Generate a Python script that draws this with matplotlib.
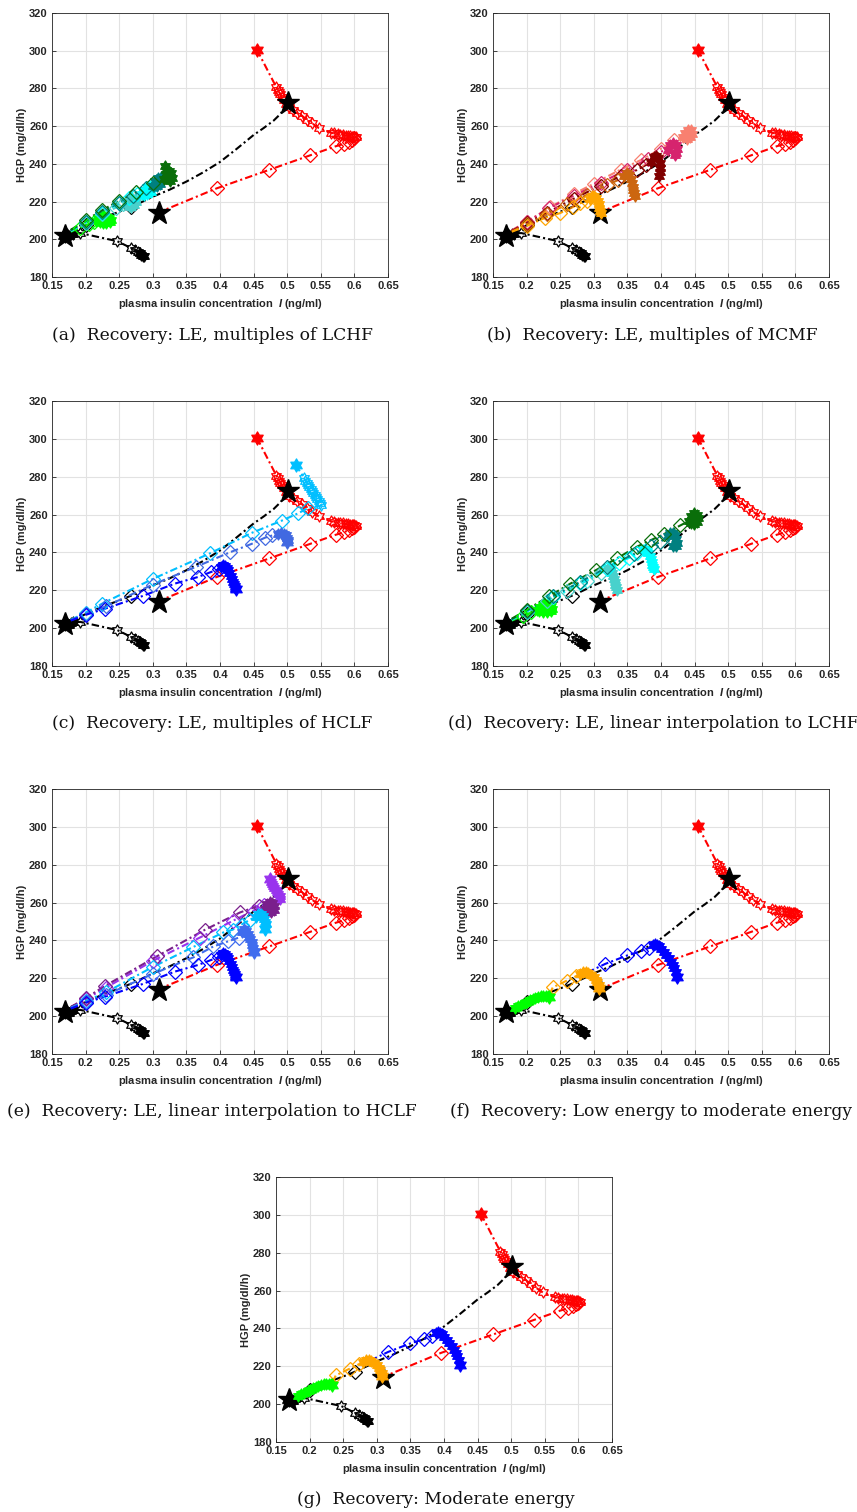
import numpy as np
import matplotlib
matplotlib.use('Agg')
import matplotlib.pyplot as plt
from matplotlib.path import Path

plt.rcParams['font.family'] = ['Liberation Sans', 'DejaVu Sans']
plt.rcParams['mathtext.fontset'] = 'custom'
plt.rcParams['mathtext.it'] = 'Liberation Sans:italic:bold'
plt.rcParams['mathtext.rm'] = 'Liberation Sans:bold'

# ---------------- axes / ticks ----------------
XTICKS = [0.15, 0.2, 0.25, 0.3, 0.35, 0.4, 0.45, 0.5, 0.55, 0.6, 0.65]
XTICKLABELS = ['0.15', '0.2', '0.25', '0.3', '0.35', '0.4', '0.45', '0.5', '0.55', '0.6', '0.65']
YTICKS = [180, 200, 220, 240, 260, 280, 300, 320]
XLABEL = 'plasma insulin concentration  $I$ (ng/ml)'
YLABEL = 'HGP (mg/dl/h)'
CAPTIONS = ['(a)  Recovery: LE, multiples of LCHF',
            '(b)  Recovery: LE, multiples of MCMF',
            '(c)  Recovery: LE, multiples of HCLF',
            '(d)  Recovery: LE, linear interpolation to LCHF',
            '(e)  Recovery: LE, linear interpolation to HCLF',
            '(f)  Recovery: Low energy to moderate energy',
            '(g)  Recovery: Moderate energy']

# ---------------- common trajectories ----------------
RED_HEX_X = [0.455, 0.484, 0.486, 0.488, 0.490, 0.492, 0.495, 0.498, 0.503, 0.508, 0.514, 0.522, 0.529,
             0.537, 0.547, 0.565, 0.570, 0.575, 0.579, 0.583, 0.587, 0.590, 0.593, 0.596, 0.598, 0.600, 0.602]
RED_HEX_Y = [300.5, 280.5, 279.3, 278.0, 276.8, 275.5, 273.8, 272.0, 270.0, 268.5, 267.0, 265.5, 263.5,
             261.5, 259.0, 256.5, 256.1, 255.8, 255.5, 255.3, 255.0, 254.8, 254.6, 254.5, 254.4, 254.3, 254.2]
RED_DIA_X = [0.602, 0.599, 0.596, 0.592, 0.584, 0.572, 0.534, 0.473, 0.395, 0.309]
RED_DIA_Y = [254.2, 253.6, 252.8, 251.8, 250.6, 249.3, 244.5, 236.8, 227.0, 214.3]
BLACK_UP_X = [0.501, 0.49, 0.48, 0.465, 0.45, 0.425, 0.40, 0.375, 0.35, 0.325, 0.30, 0.285, 0.268,
              0.25, 0.23, 0.215, 0.200, 0.188, 0.178]
BLACK_UP_Y = [272.3, 266.5, 263.0, 259.0, 255.3, 248.0, 241.0, 235.5, 230.6, 226.3, 222.6, 220.0, 217.2,
              214.6, 212.0, 209.8, 207.4, 205.5, 204.0]
BLACK_UP_MARK = [12, 16]
BLACK_LOW_X = [0.166, 0.169, 0.172, 0.175, 0.178, 0.181, 0.192, 0.247, 0.268, 0.274, 0.278, 0.281, 0.283, 0.285, 0.287]
BLACK_LOW_Y = [202.0, 201.4, 202.6, 201.8, 202.6, 203.0, 203.3, 199.0, 195.3, 194.3, 193.3, 192.6, 191.9, 191.3, 190.9]
BLACK_LOW_FILLED = [0, 1, 2, 3, 4, 5, 11, 12, 13, 14]
BLACK_LOW_OPEN = [6, 7, 8, 9, 10]
BIG_STAR_X = [0.170, 0.309, 0.501]
BIG_STAR_Y = [202.0, 214.0, 272.3]

# ---------------- panel (a) multiples of LCHF ----------------
A_COLORS = ['#00ff00', '#48d1cc', '#00ffff', '#008080', '#0a6e0a']
A1_DX = [0.178, 0.192, 0.205, 0.213]
A1_DY = [204.0, 206.2, 208.0, 209.2]
A1_HX = [0.216, 0.220, 0.224, 0.228, 0.232, 0.235, 0.238, 0.236, 0.231, 0.226, 0.221]
A1_HY = [209.6, 210.8, 211.8, 212.3, 212.0, 211.2, 210.0, 209.0, 208.6, 208.8, 209.2]
A2_DX = [0.178, 0.20, 0.225, 0.245, 0.256]
A2_DY = [204.3, 208.6, 213.2, 216.8, 218.6]
A2_HX = [0.262, 0.265, 0.269, 0.273, 0.275, 0.272, 0.267, 0.264]
A2_HY = [218.5, 220.5, 221.8, 221.5, 219.8, 218.0, 217.3, 217.8]
A3_DX = [0.178, 0.20, 0.225, 0.25, 0.265, 0.277]
A3_DY = [204.5, 209.0, 214.2, 219.0, 222.0, 224.0]
A3_HX = [0.284, 0.288, 0.292, 0.296, 0.299, 0.297, 0.292, 0.287]
A3_HY = [224.0, 226.0, 227.5, 228.2, 227.0, 225.0, 223.8, 223.5]
A4_DX = [0.178, 0.20, 0.225, 0.25, 0.27, 0.29]
A4_DY = [204.7, 209.4, 214.6, 219.4, 223.2, 227.2]
A4_HX = [0.300, 0.304, 0.308, 0.312, 0.314, 0.311, 0.306, 0.302]
A4_HY = [228.5, 230.8, 232.5, 233.0, 231.5, 229.5, 228.3, 228.0]
A5_DX = [0.178, 0.20, 0.225, 0.25, 0.275, 0.30]
A5_DY = [205.0, 210.0, 215.5, 220.5, 225.0, 230.0]
A5_HX = [0.316, 0.320, 0.324, 0.327, 0.328, 0.325, 0.320, 0.318]
A5_HY = [232.0, 234.5, 236.0, 235.0, 232.5, 231.0, 236.5, 238.8]

# ---------------- panel (b) multiples of MCMF ----------------
B_COLORS = ['#ffa500', '#cc6610', '#800000', '#d6246e', '#f88070']
B1_DX = [0.178, 0.20, 0.227, 0.25, 0.269, 0.280, 0.290]
B1_DY = [204.0, 207.0, 211.3, 213.9, 217.1, 219.2, 220.2]
B1_HX = [0.295, 0.298, 0.301, 0.304, 0.306, 0.307, 0.308, 0.309, 0.310]
B1_HY = [221.5, 223.0, 223.2, 222.0, 220.3, 218.5, 216.8, 215.2, 213.8]
B2_DX = [0.178, 0.20, 0.23, 0.26, 0.29, 0.32, 0.336]
B2_DY = [204.2, 208.0, 213.2, 218.6, 223.6, 228.8, 231.4]
B2_HX = [0.345, 0.349, 0.352, 0.355, 0.357, 0.358, 0.359, 0.36, 0.361]
B2_HY = [233.5, 235.0, 234.2, 232.0, 229.8, 227.8, 226.0, 224.5, 223.2]
B3_DX = [0.178, 0.20, 0.23, 0.27, 0.31, 0.34, 0.364, 0.378]
B3_DY = [204.4, 208.5, 214.0, 221.5, 228.5, 233.5, 236.7, 239.5]
B3_HX = [0.385, 0.389, 0.393, 0.396, 0.398, 0.399, 0.398, 0.397]
B3_HY = [241.0, 243.5, 244.2, 243.0, 240.5, 238.0, 235.5, 233.8]
B4_DX = [0.178, 0.20, 0.233, 0.27, 0.31, 0.35, 0.38, 0.40]
B4_DY = [204.6, 209.0, 216.5, 223.0, 230.0, 237.0, 242.5, 246.5]
B4_HX = [0.41, 0.414, 0.418, 0.422, 0.424, 0.423, 0.421]
B4_HY = [247.5, 250.0, 251.2, 250.0, 248.0, 246.0, 244.5]
B5_DX = [0.178, 0.20, 0.235, 0.27, 0.30, 0.34, 0.37, 0.40, 0.42]
B5_DY = [204.8, 209.3, 217.0, 224.0, 229.5, 237.0, 242.0, 248.0, 252.5]
B5_HX = [0.432, 0.436, 0.44, 0.444, 0.446, 0.443, 0.438]
B5_HY = [254.0, 256.5, 258.2, 258.0, 256.0, 254.0, 253.0]

# ---------------- panel (c) multiples of HCLF ----------------
C_COLORS = ['#0000ff', '#4169e1', '#00bfff']
C1_DX = [0.178, 0.20, 0.229, 0.285, 0.3325, 0.367, 0.387, 0.398]
C1_DY = [204.0, 207.0, 210.3, 217.0, 223.5, 227.0, 229.7, 231.0]
C1_HX = [0.402, 0.405, 0.408, 0.41, 0.412, 0.414, 0.416, 0.418, 0.42, 0.421, 0.422, 0.423]
C1_HY = [232.5, 233.2, 233.0, 232.0, 230.5, 229.0, 227.5, 226.0, 224.5, 223.3, 222.3, 221.4]
C1_STAR = (0.424, 220.5)
C2_DX = [0.178, 0.20, 0.23, 0.30, 0.365, 0.415, 0.447, 0.467, 0.478]
C2_DY = [204.2, 207.5, 211.5, 223.0, 232.5, 240.1, 244.5, 247.8, 249.0]
C2_HX = [0.487, 0.491, 0.495, 0.498, 0.5, 0.501]
C2_HY = [249.5, 250.5, 250.0, 249.0, 247.5, 246.5]
C2_STAR = (0.500, 245.5)
C3_DX = [0.178, 0.20, 0.225, 0.30, 0.385, 0.447, 0.492, 0.516, 0.531]
C3_DY = [204.4, 208.2, 213.0, 226.0, 239.5, 250.3, 256.8, 260.6, 263.5]
C3_HX = [0.551, 0.549, 0.547, 0.545, 0.543, 0.541, 0.539, 0.537, 0.535, 0.533, 0.531, 0.529, 0.527, 0.525]
C3_HY = [264.8, 265.9, 267.0, 268.1, 269.2, 270.3, 271.4, 272.5, 273.6, 274.7, 275.8, 276.9, 278.0, 279.5]
C3_STAR = (0.513, 286.0)

# ---------------- panel (d) linear interpolation to LCHF ----------------
D1_DX = [0.178, 0.195, 0.207]
D1_DY = [204.0, 206.5, 208.3]
D1_HX = [0.216, 0.220, 0.224, 0.228, 0.232, 0.236, 0.238, 0.236, 0.231, 0.225, 0.219]
D1_HY = [209.5, 211.0, 212.2, 212.8, 212.5, 211.5, 210.2, 209.0, 208.4, 208.5, 209.0]
D2_DX = [0.178, 0.20, 0.23, 0.26, 0.29, 0.31]
D2_DY = [204.3, 208.6, 214.2, 219.6, 225.0, 229.0]
D2_HX = [0.321, 0.323, 0.325, 0.327, 0.329, 0.33, 0.331, 0.332, 0.333, 0.334]
D2_HY = [232.0, 231.8, 230.5, 229.0, 227.5, 226.0, 224.5, 223.0, 221.5, 220.3]
D3_DX = [0.178, 0.20, 0.24, 0.28, 0.32, 0.337, 0.352, 0.365]
D3_DY = [204.5, 208.8, 216.3, 223.8, 231.0, 234.6, 237.0, 239.5]
D3_HX = [0.373, 0.376, 0.379, 0.381, 0.383, 0.385, 0.386, 0.387, 0.388, 0.389]
D3_HY = [241.5, 242.0, 241.0, 239.5, 238.0, 236.5, 235.0, 233.5, 232.3, 231.4]
D4_DX = [0.178, 0.20, 0.24, 0.28, 0.32, 0.36, 0.385, 0.399]
D4_DY = [204.7, 209.2, 217.0, 224.5, 232.2, 239.2, 243.3, 245.5]
D4_HX = [0.41, 0.414, 0.418, 0.421, 0.423, 0.424, 0.422, 0.418]
D4_HY = [248.5, 250.2, 250.5, 249.0, 247.0, 245.0, 243.5, 243.2]
D5_DX = [0.178, 0.20, 0.233, 0.265, 0.303, 0.335, 0.364, 0.385, 0.404, 0.429]
D5_DY = [205.0, 209.6, 216.8, 223.5, 230.6, 237.0, 243.0, 246.5, 249.6, 254.3]
D5_HX = [0.441, 0.445, 0.449, 0.453, 0.455, 0.453, 0.449, 0.444]
D5_HY = [256.5, 259.5, 260.8, 260.0, 258.0, 256.0, 255.0, 255.5]

# ---------------- panel (e) linear interpolation to HCLF ----------------
E_COLORS = ['#0000ff', '#3f6cee', '#00bfff', '#7a1f8c', '#9933ee']
E2_DX = [0.178, 0.20, 0.23, 0.30, 0.36, 0.39, 0.412, 0.428]
E2_DY = [204.2, 207.5, 211.2, 222.3, 231.0, 236.8, 239.5, 241.5]
E2_HX = [0.433, 0.436, 0.439, 0.441, 0.443, 0.445, 0.447, 0.448, 0.449, 0.45]
E2_HY = [244.5, 245.8, 245.0, 243.5, 242.0, 240.5, 239.0, 237.5, 236.0, 234.5]
E2_STAR = (0.450, 233.7)
E3_DX = [0.178, 0.20, 0.23, 0.30, 0.36, 0.405, 0.419, 0.432, 0.445]
E3_DY = [204.4, 208.0, 212.5, 226.0, 236.5, 244.2, 245.7, 248.4, 251.0]
E3_HX = [0.453, 0.457, 0.461, 0.464, 0.466, 0.467, 0.468]
E3_HY = [252.5, 254.0, 254.2, 253.0, 251.5, 250.0, 248.5]
E3_STAR = (0.467, 246.2)
E4_DX = [0.178, 0.20, 0.229, 0.306, 0.378, 0.43, 0.458]
E4_DY = [204.8, 209.5, 216.0, 231.6, 245.7, 254.8, 258.4]
E4_HX = [0.467, 0.47, 0.474, 0.478, 0.481, 0.48, 0.476, 0.471]
E4_HY = [256.5, 259.0, 260.3, 259.8, 258.0, 256.0, 255.0, 255.3]
E5_DX = [0.178, 0.20, 0.23, 0.30, 0.37, 0.42, 0.45, 0.465]
E5_DY = [204.6, 209.0, 215.0, 229.2, 241.5, 250.5, 255.8, 258.8]
E5_HX = [0.49, 0.489, 0.487, 0.485, 0.483, 0.481, 0.479, 0.477, 0.476]
E5_HY = [262.0, 263.3, 264.5, 265.6, 266.7, 267.8, 268.8, 269.8, 270.8]
E5_STAR = (0.474, 272.6)

# ---------------- panels (f),(g) low/moderate energy ----------------
F_COLORS = ['#00ff00', '#ffa500', '#0000ff']
F1_HX = [0.182, 0.187, 0.192, 0.197, 0.201, 0.205, 0.209, 0.213, 0.217, 0.221, 0.225, 0.229, 0.232]
F1_HY = [204.3, 205.3, 206.1, 206.9, 207.6, 208.3, 209.0, 209.6, 210.1, 210.5, 210.8, 210.7, 210.5]
F1_STAR = (0.234, 210.0)
F2_DX = [0.234, 0.239, 0.260, 0.274]
F2_DY = [211.5, 215.2, 218.8, 221.2]
F2_HX = [0.280, 0.284, 0.288, 0.292, 0.296, 0.300, 0.303, 0.305, 0.307]
F2_HY = [222.3, 223.3, 223.5, 223.0, 222.0, 220.8, 219.3, 217.8, 216.3]
F2_STAR = (0.308, 214.8)
F3_DX = [0.29, 0.317, 0.35, 0.37, 0.382]
F3_DY = [223.0, 227.6, 232.1, 234.3, 236.0]
F3_HX = [0.388, 0.391, 0.394, 0.397, 0.400, 0.404, 0.408, 0.412, 0.415, 0.418, 0.420, 0.422]
F3_HY = [237.5, 238.2, 237.8, 236.8, 235.3, 233.8, 232.2, 230.5, 228.8, 227.0, 225.3, 223.5]
F3_STAR = (0.424, 220.5)


# ---------------- drawing helpers ----------------
def hexagram_path():
    k = np.arange(12)
    ang = np.deg2rad(90 + 30 * k)
    r = np.where(k % 2 == 0, 1.0, 0.577)
    v = np.column_stack([r * np.cos(ang), r * np.sin(ang)])
    v = np.vstack([v, v[:1]])
    codes = [Path.MOVETO] + [Path.LINETO] * 11 + [Path.CLOSEPOLY]
    return Path(v, codes)


HEX = hexagram_path()
DASH = (0, (3.6, 1.5, 1.0, 1.5))
LW = 1.5
DMS = 7.0
HMS = 8.0


def draw_line(ax, x, y, c, z=2):
    ax.plot(x, y, color=c, lw=LW, ls=DASH, zorder=z)


def draw_dia(ax, x, y, c, z=3):
    ax.plot(x, y, ls='none', marker='D', ms=DMS, mfc='none', mec=c, mew=0.9, zorder=z)


def draw_hex(ax, x, y, c, filled=True, ms=HMS, z=3):
    ax.plot(x, y, ls='none', marker=HEX, ms=ms, mfc=(c if filled else 'none'), mec=c, mew=0.9, zorder=z)


def traj(ax, c, dx, dy, hx, hy, star=None, hfill=True):
    lx = list(dx) + list(hx)
    ly = list(dy) + list(hy)
    if star is not None:
        lx.append(star[0])
        ly.append(star[1])
    draw_line(ax, lx, ly, c, z=4)
    if len(dx) > 1:
        draw_dia(ax, dx[1:], dy[1:], c, z=5)
    draw_hex(ax, hx, hy, c, filled=hfill, z=5)
    if star is not None:
        draw_hex(ax, [star[0]], [star[1]], c, filled=True, ms=9.5, z=6)


def common(ax):
    # red
    draw_line(ax, RED_HEX_X, RED_HEX_Y, 'red')
    draw_line(ax, RED_DIA_X, RED_DIA_Y, 'red')
    draw_hex(ax, RED_HEX_X[1:], RED_HEX_Y[1:], 'red', filled=False)
    draw_hex(ax, RED_HEX_X[:1], RED_HEX_Y[:1], 'red', filled=True, ms=9.5)
    draw_dia(ax, RED_DIA_X[1:-1], RED_DIA_Y[1:-1], 'red')
    # black upper
    draw_line(ax, BLACK_UP_X, BLACK_UP_Y, 'black')
    draw_dia(ax, [BLACK_UP_X[i] for i in BLACK_UP_MARK], [BLACK_UP_Y[i] for i in BLACK_UP_MARK], 'black')
    # black lower
    draw_line(ax, BLACK_LOW_X, BLACK_LOW_Y, 'black')
    draw_hex(ax, [BLACK_LOW_X[i] for i in BLACK_LOW_OPEN], [BLACK_LOW_Y[i] for i in BLACK_LOW_OPEN],
             'black', filled=False)
    draw_hex(ax, [BLACK_LOW_X[i] for i in BLACK_LOW_FILLED], [BLACK_LOW_Y[i] for i in BLACK_LOW_FILLED],
             'black', filled=True)
    ax.plot(BIG_STAR_X, BIG_STAR_Y, ls='none', marker='*', ms=17, color='black', zorder=3.5)


def style(ax):
    ax.set_xlim(0.15, 0.65)
    ax.set_ylim(180, 320)
    ax.set_xticks(XTICKS)
    ax.set_xticklabels(XTICKLABELS)
    ax.set_yticks(YTICKS)
    ax.grid(True, color='#e2e2e2', lw=0.8)
    ax.set_axisbelow(True)
    ax.tick_params(direction='in', length=3, width=0.6, labelsize=8, colors='#262626', pad=3)
    for lab in ax.get_xticklabels() + ax.get_yticklabels():
        lab.set_fontweight('bold')
    for s in ax.spines.values():
        s.set_color('#262626')
        s.set_linewidth(0.6)
    ax.set_xlabel(XLABEL, fontsize=8, fontweight='bold', color='#262626', labelpad=4)
    ax.set_ylabel(YLABEL, fontsize=8, fontweight='bold', color='#262626', labelpad=1.5)


W, H = 857, 1512
fig = plt.figure(figsize=(W / 100, H / 100), dpi=100)


def add_ax(l, t, r, b):
    return fig.add_axes([l / W, 1 - b / H, (r - l) / W, (b - t) / H])


ax_a = add_ax(52, 13, 388, 277)
ax_b = add_ax(493, 13, 829, 277)
ax_c = add_ax(52, 401, 388, 666)
ax_d = add_ax(493, 401, 829, 666)
ax_e = add_ax(52, 789, 388, 1054)
ax_f = add_ax(493, 789, 829, 1054)
ax_g = add_ax(276, 1177, 612, 1442)

for ax in [ax_a, ax_b, ax_c, ax_d, ax_e, ax_f, ax_g]:
    style(ax)
    common(ax)

# (a)
traj(ax_a, A_COLORS[0], A1_DX, A1_DY, A1_HX, A1_HY)
traj(ax_a, A_COLORS[1], A2_DX, A2_DY, A2_HX, A2_HY)
traj(ax_a, A_COLORS[2], A3_DX, A3_DY, A3_HX, A3_HY)
traj(ax_a, A_COLORS[3], A4_DX, A4_DY, A4_HX, A4_HY)
traj(ax_a, A_COLORS[4], A5_DX, A5_DY, A5_HX, A5_HY)
# (b)
traj(ax_b, B_COLORS[4], B5_DX, B5_DY, B5_HX, B5_HY)
traj(ax_b, B_COLORS[3], B4_DX, B4_DY, B4_HX, B4_HY)
traj(ax_b, B_COLORS[2], B3_DX, B3_DY, B3_HX, B3_HY)
traj(ax_b, B_COLORS[1], B2_DX, B2_DY, B2_HX, B2_HY)
traj(ax_b, B_COLORS[0], B1_DX, B1_DY, B1_HX, B1_HY)
# (c)
traj(ax_c, C_COLORS[2], C3_DX, C3_DY, C3_HX, C3_HY, star=C3_STAR, hfill=False)
traj(ax_c, C_COLORS[1], C2_DX, C2_DY, C2_HX, C2_HY, star=C2_STAR)
traj(ax_c, C_COLORS[0], C1_DX, C1_DY, C1_HX, C1_HY, star=C1_STAR)
# (d)
traj(ax_d, A_COLORS[0], D1_DX, D1_DY, D1_HX, D1_HY)
traj(ax_d, A_COLORS[1], D2_DX, D2_DY, D2_HX, D2_HY)
traj(ax_d, A_COLORS[2], D3_DX, D3_DY, D3_HX, D3_HY)
traj(ax_d, A_COLORS[3], D4_DX, D4_DY, D4_HX, D4_HY)
traj(ax_d, A_COLORS[4], D5_DX, D5_DY, D5_HX, D5_HY)
# (e)
traj(ax_e, E_COLORS[4], E5_DX, E5_DY, E5_HX, E5_HY, star=E5_STAR)
traj(ax_e, E_COLORS[3], E4_DX, E4_DY, E4_HX, E4_HY)
traj(ax_e, E_COLORS[2], E3_DX, E3_DY, E3_HX, E3_HY, star=E3_STAR)
traj(ax_e, E_COLORS[1], E2_DX, E2_DY, E2_HX, E2_HY, star=E2_STAR)
traj(ax_e, E_COLORS[0], C1_DX, C1_DY, C1_HX, C1_HY, star=C1_STAR)
# (f), (g)
for ax in [ax_f, ax_g]:
    traj(ax, F_COLORS[0], [], [], F1_HX, F1_HY, star=F1_STAR)
    traj(ax, F_COLORS[1], F2_DX, F2_DY, F2_HX, F2_HY, star=F2_STAR)
    traj(ax, F_COLORS[2], F3_DX, F3_DY, F3_HX, F3_HY, star=F3_STAR)

# captions
CAP_POS = [(212, 335), (652, 335), (212, 723), (653, 723), (212, 1112), (651, 1112), (436, 1500)]
for (cx, cy), txt in zip(CAP_POS, CAPTIONS):
    fig.text(cx / W, 1 - cy / H, txt, ha='center', va='center', fontsize=12.3,
             family='DejaVu Serif', color='#111111')

fig.savefig('out.png', dpi=100)
